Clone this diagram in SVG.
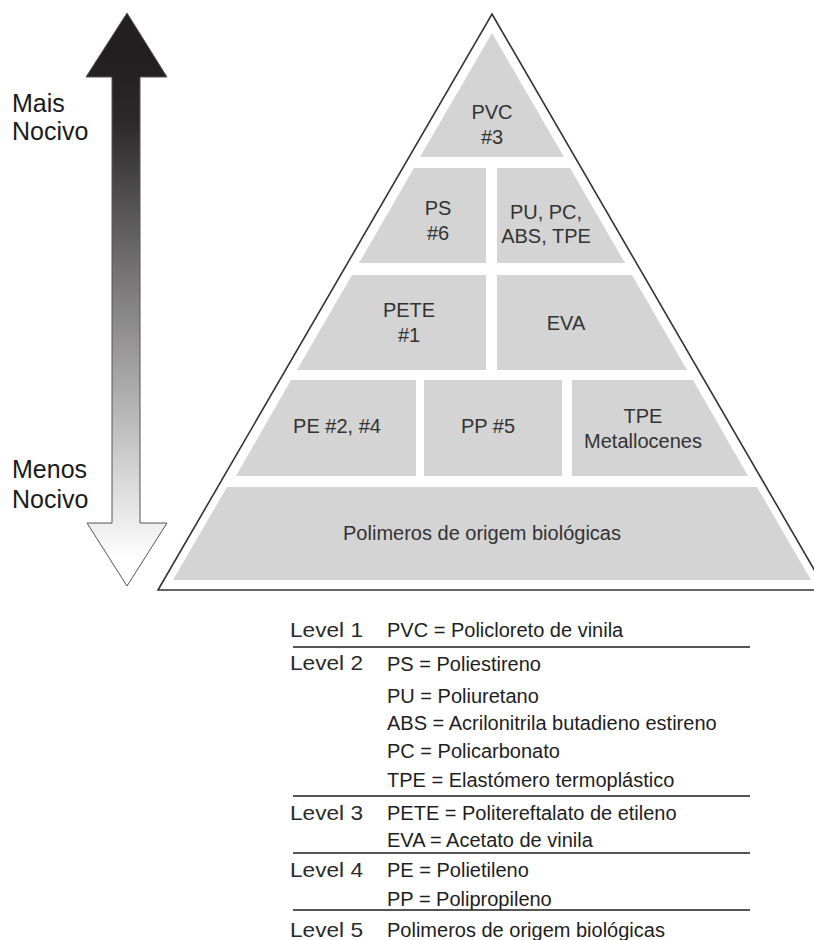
<svg xmlns="http://www.w3.org/2000/svg" width="814" height="940" viewBox="0 0 814 940">
<defs>
<linearGradient id="arrowGrad" gradientUnits="userSpaceOnUse" x1="0" y1="60" x2="0" y2="560">
<stop offset="0" stop-color="#231f20"/>
<stop offset="0.12" stop-color="#2b2829"/>
<stop offset="1" stop-color="#ffffff"/>
</linearGradient>
<style>
.blk{fill:#d4d4d4;stroke:none}
.lbl{font-family:"Liberation Sans",Arial,sans-serif;font-size:20px;fill:#333;text-anchor:middle}
.side{font-family:"Liberation Sans",Arial,sans-serif;font-size:25px;fill:#1a1a1a}
.lev{font-family:"Liberation Sans",Arial,sans-serif;font-size:21px;fill:#2a2a2a}
.def{font-family:"Liberation Sans",Arial,sans-serif;font-size:20px;fill:#1e1e1e}
.rule{stroke:#555;stroke-width:2;fill:none}
</style>
</defs>
<rect width="814" height="940" fill="#fff"/>

<g id="arrow">
<path d="M127,13 L167,77 L140,77 L140,523 L167,523 L127,586 L87,523 L112,523 L112,77 L86,77 Z" fill="url(#arrowGrad)" stroke="#555" stroke-width="1"/>
</g>
<g id="label-mais">
<text class="side" x="12" y="112">Mais</text>
<text class="side" x="12" y="140">Nocivo</text>
</g>
<g id="label-menos">
<text class="side" x="12" y="478">Menos</text>
<text class="side" x="12" y="508">Nocivo</text>
</g>

<g id="pyramid-outline">
<polygon points="492,14 826,590 158,590" fill="#fff" stroke="#333" stroke-width="1.6" stroke-linejoin="miter"/>
</g>

<g id="node-pvc">
<polygon class="blk" points="492,33 564,157 420,157"/>
<text class="lbl" x="492" y="119">PVC</text>
<text class="lbl" x="492" y="144">#3</text>
</g>
<g id="node-ps">
<polygon class="blk" points="414,168 486,168 486,263 359,263"/>
<text class="lbl" x="438" y="215">PS</text>
<text class="lbl" x="438" y="240">#6</text>
</g>
<g id="node-pu">
<polygon class="blk" points="497,168 570,168 625,263 497,263"/>
<text class="lbl" x="546" y="219">PU, PC,</text>
<text class="lbl" x="546" y="243">ABS, TPE</text>
</g>
<g id="node-pete">
<polygon class="blk" points="352,275 486,275 486,370 297,370"/>
<text class="lbl" x="409" y="317">PETE</text>
<text class="lbl" x="409" y="342">#1</text>
</g>
<g id="node-eva">
<polygon class="blk" points="497,275 632,275 687,370 497,370"/>
<text class="lbl" x="566" y="330">EVA</text>
</g>
<g id="node-pe">
<polygon class="blk" points="291,380 416,380 416,476 236,476"/>
<text class="lbl" x="337" y="433">PE #2, #4</text>
</g>
<g id="node-pp">
<rect class="blk" x="424" y="380" width="138" height="96"/>
<text class="lbl" x="488" y="433">PP #5</text>
</g>
<g id="node-tpe">
<polygon class="blk" points="572,380 693,380 748,476 572,476"/>
<text class="lbl" x="643" y="423">TPE</text>
<text class="lbl" x="643" y="448">Metallocenes</text>
</g>
<g id="node-bio">
<polygon class="blk" points="227,487 757,487 811,580 173,580"/>
<text class="lbl" x="482" y="540">Polimeros de origem biológicas</text>
</g>

<g id="legend">
<g id="connectors">
<line class="rule" x1="293" y1="647" x2="750" y2="647"/>
<line class="rule" x1="293" y1="796" x2="750" y2="796"/>
<line class="rule" x1="293" y1="853" x2="750" y2="853"/>
<line class="rule" x1="293" y1="910" x2="750" y2="910"/>
</g>
<text class="lev" x="290" y="637" textLength="73" lengthAdjust="spacingAndGlyphs">Level 1</text>
<text class="def" x="387" y="637">PVC = Policloreto de vinila</text>
<text class="lev" x="290" y="670" textLength="73" lengthAdjust="spacingAndGlyphs">Level 2</text>
<text class="def" x="387" y="671">PS = Poliestireno</text>
<text class="def" x="387" y="703">PU = Poliuretano</text>
<text class="def" x="387" y="730">ABS = Acrilonitrila butadieno estireno</text>
<text class="def" x="387" y="758">PC = Policarbonato</text>
<text class="def" x="387" y="787">TPE = Elastómero termoplástico</text>
<text class="lev" x="290" y="820" textLength="73" lengthAdjust="spacingAndGlyphs">Level 3</text>
<text class="def" x="387" y="820">PETE = Politereftalato de etileno</text>
<text class="def" x="387" y="847">EVA = Acetato de vinila</text>
<text class="lev" x="290" y="877" textLength="73" lengthAdjust="spacingAndGlyphs">Level 4</text>
<text class="def" x="387" y="877">PE = Polietileno</text>
<text class="def" x="387" y="906">PP = Polipropileno</text>
<text class="lev" x="290" y="937" textLength="73" lengthAdjust="spacingAndGlyphs">Level 5</text>
<text class="def" x="387" y="937">Polimeros de origem biológicas</text>
</g>
</svg>
